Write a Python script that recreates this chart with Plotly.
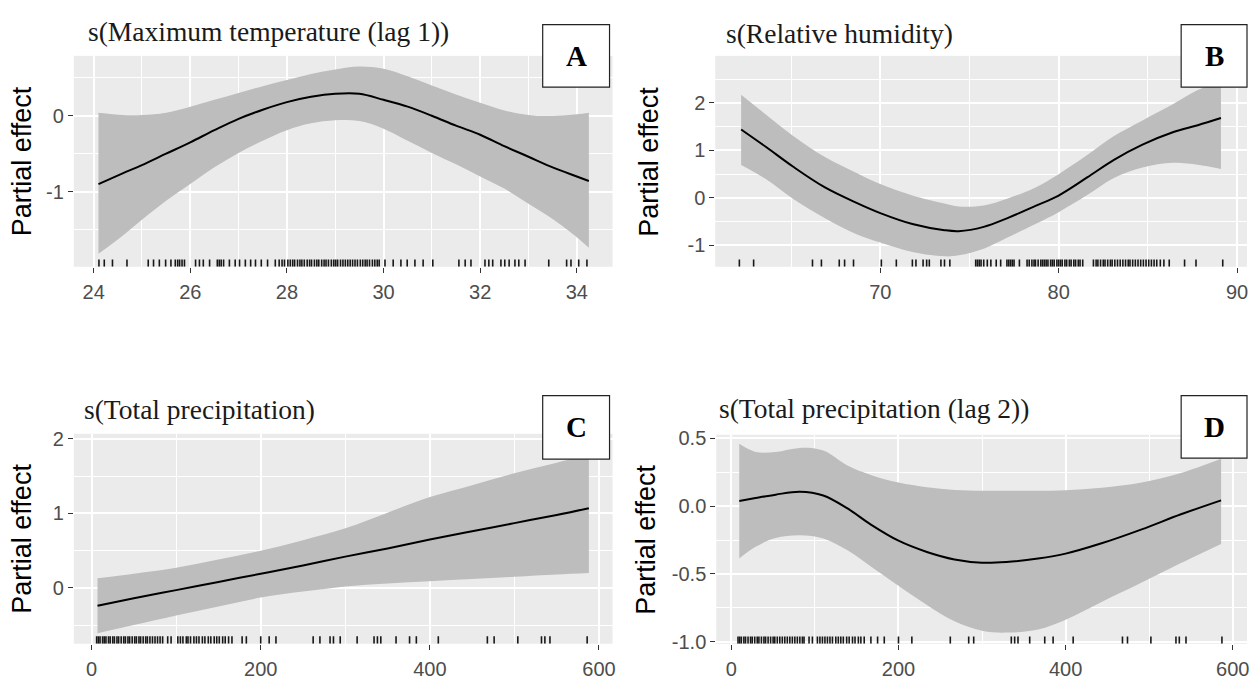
import plotly.graph_objects as go

# ---------------- data ----------------
# Panel A: s(Maximum temperature (lag 1))
A_x = [24.1, 24.6, 25.0, 25.5, 26.0, 26.5, 27.0, 27.5, 28.0, 28.5, 29.0, 29.5, 30.0, 30.5, 31.0, 31.5, 32.0, 32.5, 33.0, 33.5, 34.0, 34.25]
A_fit = [-0.90, -0.76, -0.65, -0.50, -0.35, -0.19, -0.04, 0.08, 0.18, 0.25, 0.29, 0.29, 0.21, 0.12, 0.00, -0.13, -0.25, -0.40, -0.54, -0.68, -0.80, -0.86]
A_upper = [0.04, 0.01, 0.01, 0.04, 0.12, 0.21, 0.30, 0.39, 0.47, 0.55, 0.61, 0.65, 0.62, 0.52, 0.40, 0.28, 0.17, 0.07, 0.01, 0.00, 0.02, 0.04]
A_lower = [-1.82, -1.58, -1.37, -1.12, -0.90, -0.68, -0.49, -0.33, -0.19, -0.10, -0.06, -0.07, -0.17, -0.33, -0.49, -0.64, -0.80, -0.96, -1.16, -1.36, -1.60, -1.74]
A_rug = [24.11, 24.22, 24.39, 24.69, 25.13, 25.24, 25.36, 25.49, 25.6, 25.69, 25.74, 25.78, 25.83, 25.88,
         26.11, 26.19, 26.27, 26.4, 26.56, 26.6, 26.64, 26.69, 26.81, 26.93, 27.02, 27.14, 27.25, 27.35,
         27.47, 27.6, 27.76, 27.84, 27.9, 27.95, 28.02, 28.07, 28.12, 28.16, 28.22, 28.27, 28.31, 28.36,
         28.42, 28.47, 28.51, 28.57, 28.62, 28.66, 28.72, 28.77, 28.81, 28.86, 28.92, 28.97, 29.01, 29.05,
         29.11, 29.16, 29.21, 29.26, 29.31, 29.36, 29.41, 29.46, 29.52, 29.57, 29.62, 29.66, 29.71, 29.77,
         29.82, 29.87, 29.91, 30.03, 30.2, 30.36, 30.49, 30.65, 30.82, 31.02, 31.56, 31.69, 31.81, 32.1,
         32.18, 32.26, 32.43, 32.51, 32.6, 32.72, 32.8, 32.93, 33.42, 33.79, 33.88, 34.04, 34.21]

# Panel B: s(Relative humidity)
B_x = [62.2, 63.6, 65.1, 66.9, 68.7, 70.0, 71.8, 73.6, 74.4, 75.8, 77.1, 78.7, 80.0, 81.6, 83.1, 84.7, 86.4, 87.8, 89.1]
B_fit = [1.44, 1.07, 0.66, 0.22, -0.11, -0.32, -0.55, -0.68, -0.70, -0.61, -0.43, -0.17, 0.05, 0.43, 0.80, 1.12, 1.38, 1.53, 1.68]
B_upper = [2.17, 1.75, 1.31, 0.86, 0.52, 0.29, 0.05, -0.12, -0.18, -0.16, -0.02, 0.22, 0.50, 0.90, 1.30, 1.63, 1.97, 2.27, 2.45]
B_lower = [0.69, 0.39, -0.02, -0.43, -0.77, -0.94, -1.14, -1.23, -1.21, -1.07, -0.84, -0.55, -0.30, 0.06, 0.42, 0.64, 0.74, 0.70, 0.61]
B_rug = [62.1, 62.9, 66.2, 66.7, 67.7, 68.0, 68.5, 70.06, 70.9, 71.8, 72.0, 72.4, 72.6, 72.75, 73.4, 73.6, 73.9,
         75.35, 75.45, 75.55, 75.65, 75.8, 76.0, 76.2, 76.5, 76.75, 77.1, 77.2, 77.3, 77.4, 77.5, 77.8,
         78.23, 78.35, 78.5, 78.62, 78.7, 78.85, 79.0, 79.1, 79.2, 79.3, 79.4, 79.55, 79.65, 79.75, 79.9,
         80.0, 80.1, 80.2, 80.35, 80.45, 80.6, 80.7, 80.85, 80.95, 81.1, 81.2, 81.35,
         81.95, 82.1, 82.2, 82.35, 82.5, 82.6, 82.75, 82.9, 83.0, 83.15, 83.3, 83.45, 83.6, 83.75, 83.9,
         84.0, 84.15, 84.3, 84.45, 84.6, 84.75, 84.9, 85.05, 85.2, 85.35, 85.5, 85.7, 85.9, 86.2,
         87.06, 87.7, 89.2]

# Panel C: s(Total precipitation)
C_x = [7, 50, 100, 150, 200, 250, 300, 350, 400, 450, 500, 550, 588]
C_fit = [-0.24, -0.14, -0.03, 0.08, 0.19, 0.30, 0.42, 0.53, 0.65, 0.76, 0.87, 0.98, 1.07]
C_upper = [0.13, 0.19, 0.27, 0.38, 0.50, 0.64, 0.80, 1.01, 1.22, 1.38, 1.54, 1.68, 1.79]
C_lower = [-0.61, -0.50, -0.37, -0.25, -0.13, -0.05, 0.02, 0.06, 0.09, 0.12, 0.15, 0.18, 0.20]
C_rug = [6, 8, 10, 13, 15, 17, 20, 22, 25, 27, 30, 32, 35, 38, 40, 43, 45, 48, 51, 53, 56, 58, 61, 64, 66,
         69, 72, 75, 78, 81, 84, 90, 94, 102, 105, 108, 112, 114, 117, 121, 124, 127, 131, 134, 138, 141,
         145, 148, 151, 155, 158, 162, 166, 178, 183, 200, 210, 218, 262, 270, 282, 286, 294, 314, 334,
         338, 342, 360, 376, 384, 410, 468, 476, 504, 532, 536, 542, 586]

# Panel D: s(Total precipitation (lag 2))
D_x = [9.5, 29, 53, 82, 110, 139, 167, 200, 234, 267, 300, 329, 367, 400, 443, 491, 538, 586]
D_fit = [0.038, 0.06, 0.085, 0.107, 0.079, -0.017, -0.136, -0.255, -0.338, -0.393, -0.417, -0.412, -0.386, -0.35, -0.274, -0.171, -0.06, 0.043]
D_upper = [0.46, 0.40, 0.40, 0.43, 0.41, 0.30, 0.23, 0.174, 0.14, 0.12, 0.114, 0.114, 0.114, 0.118, 0.135, 0.174, 0.245, 0.35]
D_lower = [-0.386, -0.30, -0.235, -0.214, -0.238, -0.326, -0.445, -0.588, -0.73, -0.85, -0.92, -0.933, -0.91, -0.838, -0.707, -0.564, -0.42, -0.279]
D_rug = [8, 10, 12, 15, 17, 20, 23, 25, 28, 31, 33, 36, 39, 41, 44, 47, 50, 52, 55, 58, 61, 64, 67, 70, 73,
         76, 79, 82, 85, 87, 93, 97, 103, 106, 109, 112, 115, 118, 121, 125, 128, 131, 134, 138, 141, 145,
         148, 152, 155, 159, 167, 175, 183, 200, 216, 262, 284, 290, 335, 339, 343, 357, 375, 385, 409,
         468, 474, 502, 532, 536, 544, 587]

# tick labels
A_xticks = [24, 26, 28, 30, 32, 34]
A_yticks = [-1, 0]
A_yticktext = ["-1", "0"]
B_xticks = [70, 80, 90]
B_yticks = [-1, 0, 1, 2]
B_yticktext = ["-1", "0", "1", "2"]
C_xticks = [0, 200, 400, 600]
C_yticks = [0, 1, 2]
C_yticktext = ["0", "1", "2"]
D_xticks = [0, 200, 400, 600]
D_yticks = [-1.0, -0.5, 0.0, 0.5]
D_yticktext = ["-1.0", "-0.5", "0.0", "0.5"]

titles = ["s(Maximum temperature (lag 1))", "s(Relative humidity)",
          "s(Total precipitation)", "s(Total precipitation (lag 2))"]
letters = ["A", "B", "C", "D"]
y_title = "Partial effect"

# ---------------- layout helpers ----------------
W, H = 1252, 683
def fx(p):
    return p / W
def fy(p):
    return 1 - p / H

panels = [
    dict(x=A_x, fit=A_fit, up=A_upper, lo=A_lower, rug=A_rug,
         xt=A_xticks, xtt=[str(v) for v in A_xticks], yt=A_yticks, ytt=A_yticktext,
         xminor=[25, 27, 29, 31, 33], yminor=[-1.5, -0.5, 0.5],
         xr=[23.59, 34.74], yr=[-1.99, 0.79],
         box=(74, 614, 50, 266), title_xy=(86, 25), lbox=(544, 611, 18, 82), ytitle_x=22),
    dict(x=B_x, fit=B_fit, up=B_upper, lo=B_lower, rug=B_rug,
         xt=B_xticks, xtt=[str(v) for v in B_xticks], yt=B_yticks, ytt=B_yticktext,
         xminor=[65, 75, 85], yminor=[-0.5, 0.5, 1.5, 2.5],
         xr=[60.75, 90.56], yr=[-1.45, 2.99],
         box=(717, 1250, 50, 266), title_xy=(726, 27), lbox=(1184, 1250, 18, 82), ytitle_x=651),
    dict(x=C_x, fit=C_fit, up=C_upper, lo=C_lower, rug=C_rug,
         xt=C_xticks, xtt=[str(v) for v in C_xticks], yt=C_yticks, ytt=C_yticktext,
         xminor=[100, 300, 500], yminor=[-0.5, 0.5, 1.5],
         xr=[-21, 616], yr=[-0.75, 2.07],
         box=(74, 614, 437, 652), title_xy=(82, 412), lbox=(544, 611, 398, 463), ytitle_x=22),
    dict(x=D_x, fit=D_fit, up=D_upper, lo=D_lower, rug=D_rug,
         xt=D_xticks, xtt=[str(v) for v in D_xticks], yt=D_yticks, ytt=D_yticktext,
         xminor=[100, 300, 500], yminor=[-0.75, -0.25, 0.25],
         xr=[-18, 617], yr=[-1.015, 0.527],
         box=(718, 1250, 438, 652), title_xy=(719, 411), lbox=(1184, 1250, 398, 462), ytitle_x=648),
]

TICKFONT = dict(family="Liberation Sans, Arial, sans-serif", size=20, color="#4D4D4D")
fig = go.Figure()
layout = dict(width=W, height=H, margin=dict(l=0, r=0, t=0, b=0),
              paper_bgcolor="white", plot_bgcolor="#EBEBEB", showlegend=False)
annotations = []
shapes = []

for i, p in enumerate(panels):
    n = "" if i == 0 else str(i + 1)
    xa, ya = "x" + n, "y" + n
    # band
    fig.add_trace(go.Scatter(x=p["x"], y=p["lo"], mode="lines", line=dict(width=0, shape="spline"),
                             xaxis=xa, yaxis=ya, hoverinfo="skip"))
    fig.add_trace(go.Scatter(x=p["x"], y=p["up"], mode="lines", line=dict(width=0, shape="spline"),
                             fill="tonexty", fillcolor="#BDBDBD", xaxis=xa, yaxis=ya, hoverinfo="skip"))
    # fit
    fig.add_trace(go.Scatter(x=p["x"], y=p["fit"], mode="lines",
                             line=dict(color="black", width=2, shape="spline"),
                             xaxis=xa, yaxis=ya))
    # rug
    y0 = p["yr"][0]
    y1 = y0 + 0.035 * (p["yr"][1] - p["yr"][0])
    rx, ry = [], []
    for v in p["rug"]:
        rx += [v, v, None]
        ry += [y0, y1, None]
    fig.add_trace(go.Scatter(x=rx, y=ry, mode="lines", line=dict(color="rgba(0,0,0,0.9)", width=1.6),
                             xaxis=xa, yaxis=ya, hoverinfo="skip"))

    l, r, t, b = p["box"]
    common = dict(showgrid=True, gridcolor="white", gridwidth=1.6, zeroline=False, showline=False,
                  ticks="outside", ticklen=5, tickwidth=1.2, tickcolor="#333333", tickfont=TICKFONT,
                  tickmode="array", fixedrange=True)
    layout["xaxis" + n] = dict(common, domain=[fx(l), fx(r)], range=p["xr"], anchor=ya,
                               tickvals=p["xt"], ticktext=p["xtt"], ticklabelstandoff=2,
                               minor=dict(tickmode="array", tickvals=p["xminor"], showgrid=True,
                                          gridcolor="white", gridwidth=0.7))
    layout["yaxis" + n] = dict(common, domain=[fy(b), fy(t)], range=p["yr"], anchor=xa,
                               tickvals=p["yt"], ticktext=p["ytt"],
                               minor=dict(tickmode="array", tickvals=p["yminor"], showgrid=True,
                                          gridcolor="white", gridwidth=0.7))
    # panel title
    tx, ty = p["title_xy"]
    annotations.append(dict(x=fx(tx), y=fy(ty), xref="paper", yref="paper", xanchor="left", yanchor="middle",
                            text=titles[i], showarrow=False,
                            font=dict(family="Liberation Serif, Times New Roman, serif", size=27.5, color="#1a1a1a")))
    # y-axis title
    annotations.append(dict(x=fx(p["ytitle_x"]), y=fy((t + b) / 2), xref="paper", yref="paper",
                            xanchor="center", yanchor="middle", textangle=-90, text=y_title, showarrow=False,
                            font=dict(family="Liberation Sans, Arial, sans-serif", size=27, color="black")))
    # letter box
    bl, br, bt, bb = p["lbox"]
    shapes.append(dict(type="rect", xref="paper", yref="paper", x0=fx(bl), x1=fx(br), y0=fy(bb), y1=fy(bt),
                       fillcolor="white", line=dict(color="#222222", width=1.2), layer="above"))
    annotations.append(dict(x=fx((bl + br) / 2), y=fy((bt + bb) / 2), xref="paper", yref="paper",
                            xanchor="center", yanchor="middle", text="<b>" + letters[i] + "</b>", showarrow=False,
                            font=dict(family="Liberation Serif, Times New Roman, serif", size=29, color="black")))

layout["annotations"] = annotations
layout["shapes"] = shapes
fig.update_layout(**layout)
fig.write_html("out.html")
